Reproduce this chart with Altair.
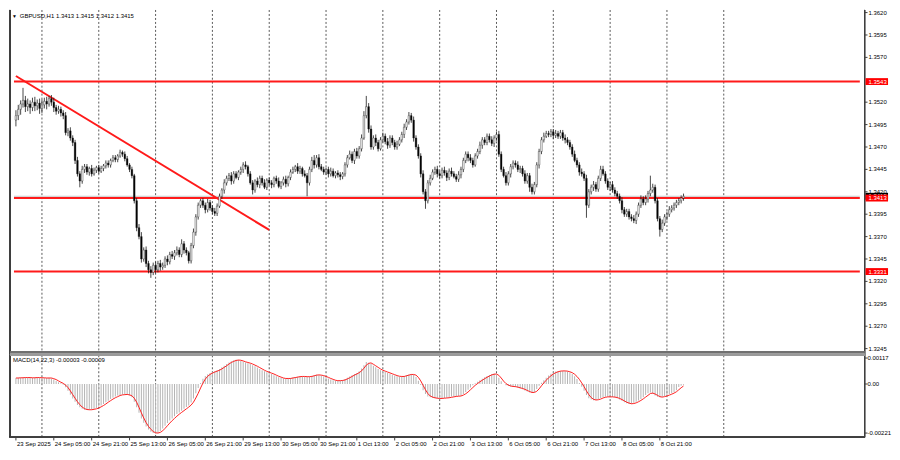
import altair as alt
import pandas as pd

# ---------------- data ----------------
# hourly closes, in pips above 1.3000 (505 -> 1.3505)
CLOSE_PIPS = [
    505, 512, 518, 522, 515, 518, 514, 520, 516, 519,
    513, 517, 521, 518, 524, 520, 514, 510, 512, 508,
    505, 486, 488, 480, 475, 455, 440, 432, 445, 448,
    442, 446, 440, 444, 447, 443, 446, 449, 452, 450,
    455, 458, 456, 460, 464, 462, 457, 450, 445, 438,
    410, 380, 370, 345, 355, 340, 333, 330, 338, 333,
    340, 336, 338, 345, 342, 350, 348, 352, 355, 350,
    362, 355, 352, 343, 360, 375, 392, 405, 410, 405,
    400, 408, 402, 398, 396, 404, 415, 422, 430, 435,
    438, 432, 440, 436, 442, 445, 450, 448, 440, 430,
    422, 432, 428, 435, 430, 425, 433, 430, 428, 435,
    432, 426, 430, 434, 429, 436, 442, 445, 448, 443,
    446, 440, 438, 430, 445, 455, 450, 458, 448, 445,
    442, 445, 440, 443, 438, 441, 439, 437, 440, 450,
    458, 462, 455, 465, 460, 468, 480, 505, 515, 490,
    470, 480, 475, 468, 478, 482, 476, 472, 480, 475,
    470, 473, 478, 484, 492, 498, 505, 500, 480, 470,
    460, 440, 420, 410, 430, 435, 442, 445, 440, 438,
    444, 441, 436, 443, 440, 437, 434, 439, 445, 455,
    462, 458, 455, 450, 460, 465, 472, 478, 475, 482,
    478, 474, 480, 484, 462, 445, 438, 430, 440, 448,
    452, 450, 445, 446, 440, 432, 438, 425, 420, 428,
    450, 465, 478, 482, 485, 484, 487, 483, 485, 482,
    486, 480, 478, 475, 470, 462, 455, 450, 442, 440,
    435, 405, 420, 425, 428, 423, 435, 445, 440, 432,
    425, 428, 422, 418, 415, 410, 400, 395, 398, 392,
    390, 388, 395, 405, 412, 408, 412, 418, 422, 425,
    410, 390, 378, 385, 392, 395, 400, 402, 405, 408,
    410, 413, 415,
]
FIRST_OPEN_PIPS = 500
# upper / lower wick lengths in pips
UP_WICK = [
    6, 5, 4, 14, 5, 6, 4, 5, 6, 4,
    5, 6, 4, 5, 3, 4, 5, 3, 4, 3,
    3, 4, 3, 4, 3, 3, 4, 3, 4, 3,
    3, 2, 4, 3, 2, 3, 3, 2, 3, 3,
    2, 3, 3, 2, 3, 2, 3, 3, 2, 3,
    2, 3, 4, 5, 3, 4, 3, 4, 3, 4,
    3, 4, 3, 3, 4, 3, 4, 3, 4, 3,
    5, 3, 3, 2, 3, 4, 3, 3, 2, 3,
    3, 4, 3, 3, 4, 3, 3, 2, 4, 3,
    3, 4, 3, 3, 2, 3, 3, 4, 2, 3,
    3, 2, 4, 3, 3, 4, 2, 3, 3, 2,
    3, 4, 2, 3, 4, 2, 3, 3, 2, 4,
    3, 2, 4, 3, 3, 4, 6, 3, 4, 3,
    3, 2, 3, 4, 3, 2, 3, 3, 2, 3,
    3, 4, 3, 3, 4, 3, 4, 5, 12, 4,
    4, 3, 4, 3, 3, 4, 3, 4, 3, 3,
    3, 4, 3, 3, 4, 3, 4, 3, 4, 3,
    3, 3, 4, 3, 3, 4, 3, 3, 4, 3,
    3, 4, 3, 3, 4, 3, 3, 4, 3, 3,
    3, 3, 4, 3, 3, 3, 4, 3, 3, 3,
    3, 4, 3, 3, 4, 3, 3, 4, 3, 3,
    3, 3, 4, 3, 3, 4, 3, 3, 4, 3,
    3, 3, 3, 4, 3, 3, 3, 3, 4, 3,
    3, 3, 4, 3, 3, 3, 4, 3, 3, 4,
    3, 4, 3, 3, 4, 3, 3, 4, 4, 3,
    3, 3, 4, 3, 3, 3, 4, 3, 3, 3,
    3, 4, 3, 3, 4, 3, 4, 3, 16, 4,
    3, 3, 3, 4, 3, 3, 4, 3, 3, 3,
    3, 3, 3,
]
DN_WICK = [
    7, 5, 6, 4, 6, 5, 7, 4, 6, 5,
    6, 5, 4, 6, 3, 4, 5, 4, 3, 4,
    4, 3, 4, 3, 4, 4, 3, 7, 3, 4,
    3, 4, 3, 2, 3, 3, 2, 3, 3, 3,
    3, 2, 3, 3, 2, 3, 3, 2, 3, 3,
    3, 4, 3, 4, 3, 4, 4, 6, 3, 4,
    3, 4, 3, 3, 4, 3, 3, 4, 3, 3,
    3, 4, 3, 3, 3, 3, 4, 3, 3, 3,
    4, 3, 3, 3, 3, 3, 2, 3, 4, 3,
    3, 4, 3, 2, 3, 3, 4, 3, 3, 2,
    5, 3, 3, 4, 3, 2, 3, 3, 4, 3,
    3, 2, 3, 3, 4, 3, 3, 2, 3, 3,
    3, 3, 2, 15, 3, 3, 4, 3, 3, 2,
    3, 3, 4, 3, 2, 3, 3, 4, 3, 3,
    3, 2, 3, 4, 3, 3, 3, 2, 3, 4,
    3, 3, 4, 3, 2, 3, 3, 4, 3, 3,
    3, 3, 2, 3, 4, 3, 3, 3, 4, 3,
    3, 4, 3, 9, 3, 3, 2, 3, 4, 3,
    3, 3, 4, 3, 3, 2, 3, 3, 4, 3,
    3, 4, 3, 3, 2, 3, 3, 4, 3, 3,
    3, 3, 4, 3, 3, 3, 2, 3, 3, 4,
    3, 3, 3, 4, 3, 3, 3, 5, 3, 3,
    3, 4, 3, 3, 2, 3, 3, 4, 3, 3,
    3, 3, 4, 3, 3, 3, 2, 3, 4, 3,
    3, 14, 3, 3, 4, 3, 3, 3, 2, 3,
    3, 4, 3, 3, 3, 3, 4, 3, 3, 3,
    3, 3, 4, 3, 3, 3, 3, 4, 3, 3,
    3, 3, 8, 3, 3, 4, 3, 3, 3, 3,
    3, 3, 3,
]
# MACD(14,22,3) main (histogram) and signal, in units of 0.00001
MACD_MAIN = [
    27, 28, 28, 29, 29, 29, 28, 28, 29, 29,
    28, 28, 27, 27, 28, 25, 20, 14, 8, 3,
    -3, -15, -30, -48, -65, -80, -95, -105, -112, -116,
    -117, -116, -115, -112, -108, -103, -97, -90, -82, -75,
    -68, -62, -56, -52, -49, -47, -47, -48, -52, -60,
    -80, -105, -130, -155, -175, -192, -205, -215, -221, -223,
    -220, -212, -200, -188, -176, -165, -155, -145, -135, -128,
    -120, -112, -104, -97, -83, -65, -42, -18, 5, 24,
    36, 44, 50, 54, 57, 62, 68, 75, 82, 90,
    97, 103, 107, 109, 108, 104, 100, 97, 94, 90,
    85, 80, 74, 68, 62, 57, 53, 49, 45, 40,
    35, 30, 27, 25, 24, 25, 27, 29, 31, 33,
    34, 34, 33, 32, 34, 37, 40, 42, 40, 38,
    35, 30, 25, 20, 17, 15, 14, 15, 18, 22,
    28, 34, 40, 45, 50, 58, 70, 85, 99, 96,
    90, 82, 75, 68, 62, 58, 54, 50, 46, 42,
    38, 35, 33, 34, 36, 40, 43, 45, 42, 32,
    15, -5, -28, -45, -56, -60, -62, -64, -65, -65,
    -64, -63, -62, -62, -56, -56, -55, -54, -52, -45,
    -36, -26, -16, -6, 3, 10, 17, 24, 30, 36,
    41, 45, 47, 42, 28, 12, 0, -6, -9, -11,
    -12, -14, -17, -20, -24, -29, -34, -38, -41, -36,
    -22, -8, 6, 17, 28, 38, 46, 52, 56, 58,
    59, 59, 58, 56, 52, 45, 35, 22, 5, -12,
    -30, -50, -64, -70, -73, -72, -68, -63, -59, -58,
    -58, -58, -59, -60, -64, -70, -76, -82, -87, -90,
    -89, -85, -80, -74, -68, -60, -50, -42, -38, -44,
    -52, -58, -60, -58, -54, -50, -45, -42, -36, -28,
    -14, -8, -3,
]
MACD_SIGNAL = [
    27, 27, 28, 28, 29, 29, 29, 28, 28, 29,
    29, 28, 28, 27, 27, 27, 24, 20, 14, 8,
    3, -5, -16, -31, -48, -64, -80, -93, -104, -111,
    -115, -116, -116, -114, -112, -108, -103, -97, -90, -82,
    -75, -68, -62, -57, -52, -49, -48, -47, -49, -53,
    -64, -82, -105, -130, -153, -174, -191, -204, -214, -220,
    -221, -218, -211, -200, -188, -176, -165, -155, -145, -136,
    -128, -120, -112, -104, -95, -82, -63, -42, -18, 4,
    22, 35, 43, 49, 54, 58, 62, 68, 75, 82,
    90, 97, 102, 106, 108, 107, 104, 100, 97, 94,
    90, 85, 80, 74, 68, 62, 57, 53, 49, 45,
    40, 35, 31, 27, 25, 25, 25, 27, 29, 31,
    33, 34, 34, 33, 33, 34, 37, 40, 41, 40,
    38, 34, 30, 25, 21, 17, 15, 15, 16, 18,
    23, 28, 34, 40, 45, 51, 59, 71, 85, 93,
    95, 89, 82, 75, 68, 62, 58, 54, 50, 46,
    42, 38, 35, 34, 34, 37, 40, 43, 43, 40,
    30, 14, -6, -26, -43, -54, -59, -62, -64, -65,
    -65, -64, -63, -62, -60, -58, -56, -55, -54, -50,
    -44, -36, -26, -16, -6, 2, 10, 17, 24, 30,
    36, 41, 44, 45, 39, 27, 13, 2, -5, -9,
    -11, -12, -14, -17, -20, -24, -29, -34, -38, -38,
    -33, -22, -8, 5, 17, 28, 37, 45, 51, 55,
    58, 59, 59, 58, 55, 51, 44, 34, 21, 5,
    -12, -31, -48, -61, -69, -72, -71, -68, -63, -60,
    -58, -58, -58, -59, -61, -65, -70, -76, -82, -86,
    -89, -88, -85, -80, -74, -67, -59, -51, -43, -41,
    -45, -51, -57, -59, -57, -54, -50, -46, -41, -35,
    -26, -17, -9,
]

LEVELS = [1.3543, 1.3413, 1.3331]
LEVEL_LABELS = ["1.3543", "1.3413", "1.3331"]
BID = 1.3415
BID_LABEL = "1.3415"
TREND_I = [0, 107]
TREND_PRICE = [1.35492, 1.33774]

PRICE_TICKS = [1.3620, 1.3595, 1.3570, 1.3520, 1.3495, 1.3470, 1.3445, 1.3420,
               1.3395, 1.3370, 1.3345, 1.3320, 1.3295, 1.3270, 1.3245]
MACD_TICKS = [0.00117, 0.0, -0.00221]
MACD_TICK_LABELS = ["0.00117", "0.00", "-0.00221"]
X_LABELS = ["23 Sep 2025", "24 Sep 05:00", "24 Sep 21:00", "25 Sep 13:00",
            "26 Sep 05:00", "26 Sep 21:00", "29 Sep 13:00", "30 Sep 05:00",
            "30 Sep 21:00", "1 Oct 13:00", "2 Oct 05:00", "2 Oct 21:00",
            "3 Oct 13:00", "6 Oct 05:00", "6 Oct 21:00", "7 Oct 13:00",
            "8 Oct 05:00", "8 Oct 21:00"]
X_LABEL_STEP = 16
GRID_BARS = [11 + 24 * k for k in range(13)]   # midnight of each trading day

TITLE = "GBPUSD,H1  1.3413 1.3415 1.3412 1.3415"
MACD_TITLE = "MACD(14,22,3) -0.00003 -0.00009"

# ---------------- layout ----------------
W, H = 884, 442
SX, SY = W / 900.0, H / 460.0
def px(y): return y * SY     # reference y -> plot px
def pxx(x): return x * SX    # reference x -> plot px

XD = [-0.817, 366.7]              # bar-index domain across the full width
PD = [1.313185, 1.362288]         # price domain across the full height
MD = [-0.002974, 0.016853]        # MACD domain across the full height
HALF_BOX = 3.6 / 9368.0           # half height of a price label box (price units)
AXIS_I = (875 - 2) / 2.449
FONT = "Liberation Sans"

n = min(len(CLOSE_PIPS), len(UP_WICK), len(DN_WICK), len(MACD_MAIN), len(MACD_SIGNAL))
closes = [1.3 + c * 0.0001 for c in CLOSE_PIPS[:n]]
opens = [1.3 + FIRST_OPEN_PIPS * 0.0001] + closes[:-1]
highs = [max(o, c) + u * 0.0001 for o, c, u in zip(opens, closes, UP_WICK)]
lows = [min(o, c) - d * 0.0001 for o, c, d in zip(opens, closes, DN_WICK)]
candles = pd.DataFrame({"i": list(range(n)), "open": opens, "close": closes,
                        "high": highs, "low": lows})
macd = pd.DataFrame({"i": list(range(n)),
                     "m": [v * 1e-5 for v in MACD_MAIN[:n]],
                     "s": [v * 1e-5 for v in MACD_SIGNAL[:n]],
                     "zero": [0.0] * n})

xs = alt.Scale(domain=XD, nice=False, zero=False)
ps = alt.Scale(domain=PD, nice=False, zero=False)
ms = alt.Scale(domain=MD, nice=False, zero=False)
def X(f="i"): return alt.X(f"{f}:Q", scale=xs, axis=None)
def YP(f): return alt.Y(f"{f}:Q", scale=ps, axis=None)
def YM(f): return alt.Y(f"{f}:Q", scale=ms, axis=None)

layers = []

# dotted vertical grid, in both panels
grid = pd.DataFrame({"i": GRID_BARS})
for y0, y1 in [(0, 357), (361, 446.5)]:
    layers.append(alt.Chart(grid).mark_rule(color="#5a5a5a", strokeWidth=1, strokeDash=[2, 2])
                  .encode(x=X(), y=alt.value(px(y0)), y2=alt.value(px(y1))))

# bid line and horizontal levels
lv = pd.DataFrame({"price": LEVELS, "x0": [XD[0]] * 3, "x1": [AXIS_I] * 3})
bid = pd.DataFrame({"price": [BID], "x0": [XD[0]], "x1": [AXIS_I]})
layers.append(alt.Chart(bid).mark_rule(color="#c8c8c8", strokeWidth=1)
              .encode(x=X("x0"), x2="x1:Q", y=YP("price")))
layers.append(alt.Chart(lv).mark_rule(color="#ff1a1a", strokeWidth=2)
              .encode(x=X("x0"), x2="x1:Q", y=YP("price")))

# trend line
tr = pd.DataFrame({"i": TREND_I, "price": TREND_PRICE})
layers.append(alt.Chart(tr).mark_line(color="#ff1a1a", strokeWidth=2)
              .encode(x=X(), y=YP("price")))

# candles
layers.append(alt.Chart(candles).mark_rule(color="#1a1a1a", strokeWidth=0.8)
              .encode(x=X(), y=YP("low"), y2="high:Q"))
layers.append(alt.Chart(candles).mark_bar(size=1.6, stroke="#1a1a1a", strokeWidth=0.4)
              .encode(x=X(), y=YP("open"), y2="close:Q",
                      fill=alt.condition("datum.close >= datum.open",
                                         alt.value("#ffffff"), alt.value("#000000"))))

# MACD
layers.append(alt.Chart(macd).mark_bar(size=1, color="#b4b4b4")
              .encode(x=X(), y=YM("m"), y2="zero:Q"))
layers.append(alt.Chart(macd).mark_line(color="#ff2020", strokeWidth=1)
              .encode(x=X(), y=YM("s")))

# frame
for x0 in [1, 875]:
    layers.append(alt.Chart(grid).mark_rule(color="#404040", strokeWidth=1)
                  .encode(x=alt.value(pxx(x0)), y=alt.value(px(0)), y2=alt.value(px(446.7))))
for y, col, sw in [(357.6, "#707070", 1), (360.4, "#9a9a9a", 2), (446.7, "#404040", 1)]:
    layers.append(alt.Chart(grid).mark_rule(color=col, strokeWidth=sw)
                  .encode(x=alt.value(pxx(1)), x2=alt.value(pxx(875)), y=alt.value(px(y))))

# right price axis
pt = pd.DataFrame({"price": PRICE_TICKS, "label": [f"{v:.4f}" for v in PRICE_TICKS]})
layers.append(alt.Chart(pt).mark_rule(color="#404040", strokeWidth=1)
              .encode(x=alt.value(pxx(875)), x2=alt.value(pxx(878)), y=YP("price")))
layers.append(alt.Chart(pt).mark_text(align="left", baseline="middle", fontSize=6,
                                      font=FONT, color="#000000")
              .encode(x=alt.value(pxx(879)), y=YP("price"), text="label:N"))

# price label boxes
bx = pd.DataFrame({"price": [BID] + LEVELS, "label": [BID_LABEL] + LEVEL_LABELS,
                   "col": ["#000000", "#ff0000", "#ff0000", "#ff0000"]})
bx["top"] = bx["price"] + HALF_BOX
bx["bot"] = bx["price"] - HALF_BOX
for k in range(len(bx)):
    row = bx.iloc[[k]]
    layers.append(alt.Chart(row).mark_rect(color=row["col"].iloc[0])
                  .encode(x=alt.value(pxx(876)), x2=alt.value(pxx(899)),
                          y=YP("top"), y2="bot:Q"))
    layers.append(alt.Chart(row).mark_text(align="left", baseline="middle", fontSize=6,
                                           font=FONT, color="#ffffff")
                  .encode(x=alt.value(pxx(879)), y=YP("price"), text="label:N"))

# MACD axis
mt = pd.DataFrame({"v": MACD_TICKS, "label": MACD_TICK_LABELS})
layers.append(alt.Chart(mt).mark_rule(color="#404040", strokeWidth=1)
              .encode(x=alt.value(pxx(875)), x2=alt.value(pxx(878)), y=YM("v")))
layers.append(alt.Chart(mt).mark_text(align="left", baseline="middle", fontSize=6,
                                      font=FONT, color="#000000")
              .encode(x=alt.value(pxx(878)), y=YM("v"), text="label:N"))

# time axis
xl = pd.DataFrame({"i": [k * X_LABEL_STEP for k in range(len(X_LABELS))], "label": X_LABELS})
layers.append(alt.Chart(xl).mark_rule(color="#404040", strokeWidth=1)
              .encode(x=X(), y=alt.value(px(446.7)), y2=alt.value(px(450))))
layers.append(alt.Chart(xl).mark_text(align="left", baseline="middle", fontSize=6,
                                      font=FONT, color="#000000", dx=1)
              .encode(x=X(), y=alt.value(px(453.5)), text="label:N"))

# titles
tt = pd.DataFrame({"t": [TITLE], "m": [MACD_TITLE], "a": ["\u25BC"]})
layers.append(alt.Chart(tt).mark_text(align="left", baseline="middle", fontSize=5,
                                      color="#000000")
              .encode(x=alt.value(pxx(3)), y=alt.value(px(6)), text="a:N"))
layers.append(alt.Chart(tt).mark_text(align="left", baseline="middle", fontSize=6,
                                      font=FONT, color="#000000")
              .encode(x=alt.value(pxx(11)), y=alt.value(px(6)), text="t:N"))
layers.append(alt.Chart(tt).mark_text(align="left", baseline="middle", fontSize=6,
                                      font=FONT, color="#000000")
              .encode(x=alt.value(pxx(4)), y=alt.value(px(366)), text="m:N"))

chart = (alt.layer(*layers)
         .resolve_scale(y="independent")
         .properties(width=W, height=H, padding=0, background="#ffffff")
         .configure_view(stroke=None))

chart.save("out.html", embed_options={"renderer": "svg", "actions": False})
